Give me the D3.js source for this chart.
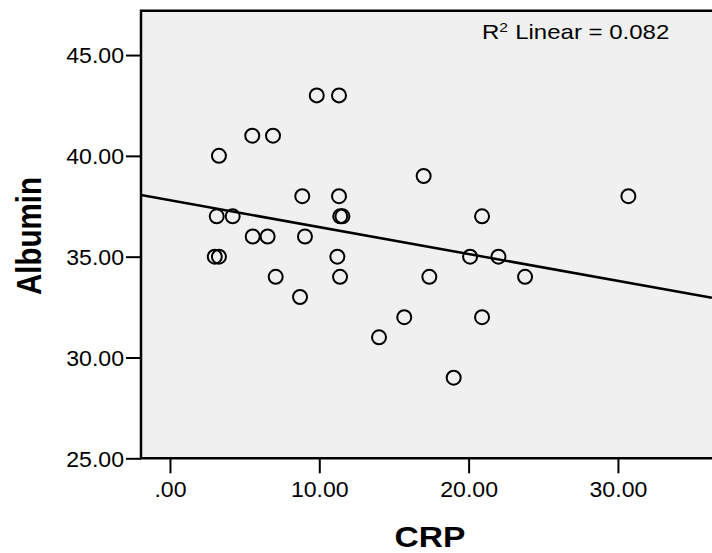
<!DOCTYPE html>
<meta charset="utf-8">
<script src="https://cdn.jsdelivr.net/npm/d3@7"></script>
<style>
  body { margin: 0; background: #fff; }
  svg text { font-family: "Liberation Sans", Arial, sans-serif; fill: #000; }
</style>
<div id="my_dataviz"></div>
<script>
  // data
  var crp = [9.83, 11.32, 5.51, 6.9, 3.28, 16.99, 8.86, 11.32, 30.7,
    3.13, 4.2, 11.4, 11.55, 20.9, 5.54, 6.54, 9.04,
    3.0, 3.28, 11.21, 20.1, 22.0, 7.08, 11.39, 17.37, 23.78,
    8.71, 15.69, 20.9, 14.0, 19.0];
  var albumin = [43, 43, 41, 41, 40, 39, 38, 38, 38,
    37, 37, 37, 37, 37, 36, 36, 36,
    35, 35, 35, 35, 35, 34, 34, 34, 34,
    33, 32, 32, 31, 29];
  var xTicks = [0, 10, 20, 30];
  var yTicks = [25, 30, 35, 40, 45];
  // fit line as shown on the chart
  var fitIntercept = 37.8, fitSlope = -0.1334;
  var r2Label = "0.082";

  var W = 712, H = 553;
  var pLeft = 141, pTop = 10.7, pRight = 712, pBottom = 458.3;
  var sx = 1.05; // text in the picture is a bit stretched horizontally

  var svg = d3.select("#my_dataviz").append("svg")
    .attr("width", W).attr("height", H);

  var x = d3.scaleLinear().domain([-1.94, 36.3]).range([pLeft, pRight]);
  var y = d3.scaleLinear().domain([25, 47.2]).range([pBottom, pTop]);

  svg.append("rect")
    .attr("x", pLeft).attr("y", pTop)
    .attr("width", pRight - pLeft).attr("height", pBottom - pTop)
    .attr("fill", "#f0f0f0");

  svg.append("clipPath").attr("id", "clip")
    .append("rect")
    .attr("x", pLeft).attr("y", pTop)
    .attr("width", pRight - pLeft).attr("height", pBottom - pTop);

  var fmt = function (d) { return d === 0 ? ".00" : d3.format(".2f")(d); };

  // y axis
  var yAxis = svg.append("g")
    .attr("transform", "translate(" + pLeft + ",0)")
    .call(d3.axisLeft(y).tickValues(yTicks).tickSize(15).tickFormat(fmt));
  yAxis.select(".domain").remove();
  yAxis.selectAll(".tick line").attr("stroke", "#000").attr("stroke-width", 2);
  yAxis.selectAll(".tick text")
    .attr("font-size", 22)
    .attr("font-family", "Liberation Sans, Arial, sans-serif")
    .attr("x", -17 / sx)
    .attr("dy", "0.36em")
    .attr("transform", "scale(" + sx + ",1)");

  // x axis
  var xAxis = svg.append("g")
    .attr("transform", "translate(0," + pBottom + ")")
    .call(d3.axisBottom(x).tickValues(xTicks).tickSize(15).tickFormat(fmt));
  xAxis.select(".domain").remove();
  xAxis.selectAll(".tick line").attr("stroke", "#000").attr("stroke-width", 2);
  xAxis.selectAll(".tick text")
    .attr("font-size", 22)
    .attr("font-family", "Liberation Sans, Arial, sans-serif")
    .attr("y", 39)
    .attr("dy", 0)
    .attr("transform", "scale(" + sx + ",1)");

  // frame: left, top, bottom
  svg.append("path")
    .attr("d", "M" + pRight + "," + pTop + "H" + pLeft + "V" + pBottom + "H" + pRight)
    .attr("fill", "none")
    .attr("stroke", "#000")
    .attr("stroke-width", 2.5);

  // fit line
  var x0 = x.domain()[0], x1 = x.domain()[1];
  svg.append("line")
    .attr("clip-path", "url(#clip)")
    .attr("x1", x(x0)).attr("y1", y(fitIntercept + fitSlope * x0))
    .attr("x2", x(x1)).attr("y2", y(fitIntercept + fitSlope * x1))
    .attr("stroke", "#000")
    .attr("stroke-width", 2.5);

  // points
  svg.append("g").selectAll("circle")
    .data(crp)
    .enter()
    .append("circle")
    .attr("cx", function (d) { return x(d); })
    .attr("cy", function (d, i) { return y(albumin[i]); })
    .attr("r", 7)
    .attr("fill", "none")
    .attr("stroke", "#000")
    .attr("stroke-width", 2);

  // R2 label
  var r2 = svg.append("text")
    .attr("transform", "translate(482,39) scale(1.2,1)")
    .attr("font-size", 20);
  r2.append("tspan").text("R");
  r2.append("tspan").attr("dy", -7).attr("font-size", 13).text("2");
  r2.append("tspan").attr("dy", 7).attr("dx", 6).text("Linear = " + r2Label);

  // axis titles
  svg.append("text")
    .attr("transform", "translate(41,236) rotate(-90) scale(1,1.18)")
    .attr("text-anchor", "middle")
    .attr("font-weight", "bold")
    .attr("font-size", 29.5)
    .text("Albumin");

  svg.append("text")
    .attr("transform", "translate(430,547) scale(1.12,1)")
    .attr("text-anchor", "middle")
    .attr("font-weight", "bold")
    .attr("font-size", 30)
    .text("CRP");
</script>
